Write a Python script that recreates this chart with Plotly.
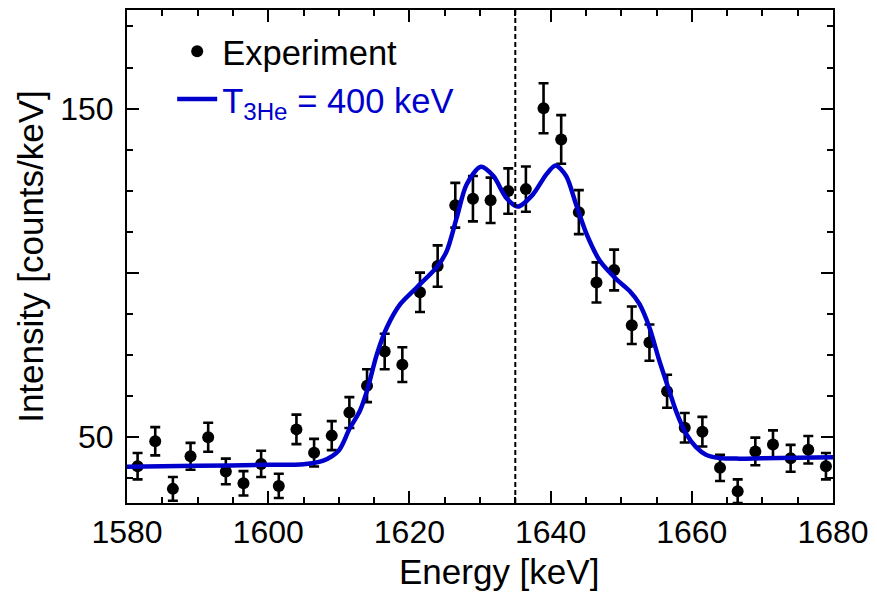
import plotly.graph_objects as go

# Experimental data (energy in keV, intensity in counts/keV)
exp_energy = [1581.5 + 2.5 * i for i in range(40)]
exp_counts = [41.2, 48.8, 34.3, 44.2, 50.0, 39.6, 36.0, 41.9, 35.2, 52.4,
              45.3, 50.5, 57.5, 65.7, 76.1, 72.1, 94.1, 102.1, 120.6, 122.6,
              122.1, 124.9, 125.5, 150.1, 140.6, 118.5, 97.1, 100.9, 84.1, 78.8,
              64.0, 52.9, 51.7, 40.7, 33.6, 45.7, 47.8, 43.6, 46.2, 41.2]
exp_err = [4.0, 4.3, 3.6, 4.1, 4.4, 3.9, 3.7, 4.0, 3.7, 4.5,
           4.2, 4.4, 4.7, 5.0, 5.4, 5.3, 6.0, 6.3, 6.8, 6.9,
           6.9, 6.9, 6.9, 7.6, 7.4, 6.7, 6.1, 6.2, 5.7, 5.5,
           5.0, 4.5, 4.5, 4.0, 3.6, 4.2, 4.3, 4.1, 4.2, 4.0]

# Simulated line shape, T_3He = 400 keV
fit_energy = [1580, 1590, 1600, 1605, 1607.8, 1610, 1611.5, 1613.0, 1614.0, 1615.4,
              1616.8, 1618.7, 1621.0, 1624.0, 1625.3, 1626.7, 1628.1, 1630.1, 1631.9,
              1633.7, 1635.4, 1637.5, 1639.4, 1640.7, 1642.2, 1643.6, 1645.1, 1647.0,
              1649.3, 1651.2, 1652.6, 1654.0, 1655.4, 1656.8, 1657.8, 1659.2, 1660.6,
              1662.0, 1663.9, 1666.7, 1670, 1680]
fit_counts = [41.0, 41.3, 41.6, 41.8, 42.9, 46.0, 52.5, 58.1, 64.2, 75.3,
              83.4, 90.5, 95.5, 102.1, 106.7, 116.8, 126.9, 132.3, 129.5,
              122.9, 120.2, 123.9, 130.0, 132.7, 129.5, 120.9, 111.8, 103.6,
              98.1, 94.5, 90.5, 83.4, 73.3, 64.2, 57.8, 51.0, 47.0,
              44.7, 43.7, 43.5, 43.6, 43.9]

ref_energy = 1635
x_ticks = [1580, 1600, 1620, 1640, 1660, 1680]
y_ticks = [50, 100, 150]
y_ticktext = ["50", "", "150"]
y_minor = [37.5, 62.5, 75, 87.5, 112.5, 125, 137.5, 162.5, 175]

FONT = "Liberation Sans, Arial, sans-serif"
BLUE = "#0000cc"

fig = go.Figure()
fig.add_trace(go.Scatter(
    x=exp_energy, y=exp_counts, mode="markers", name="Experiment",
    marker=dict(color="black", size=12),
    error_y=dict(type="data", array=exp_err, color="black", thickness=2.6, width=5),
))
fig.add_trace(go.Scatter(
    x=fit_energy, y=fit_counts, mode="lines",
    name='<span style="color:#0000cc">T<sub>3He</sub> = 400 keV</span>',
    line=dict(color=BLUE, width=4.5, shape="spline", smoothing=0.8),
))

fig.add_shape(type="line", xref="x", yref="paper", x0=ref_energy, x1=ref_energy,
              y0=0, y1=1, line=dict(color="black", width=2, dash="5px,3px"))

axis_common = dict(
    showline=True, linecolor="black", linewidth=2, mirror="ticks",
    ticks="inside", tickcolor="black", tickwidth=1.8, ticklen=12,
    showgrid=False, zeroline=False,
    tickfont=dict(family=FONT, size=32, color="black"),
)

fig.update_xaxes(
    range=[1580, 1680], tickmode="array", tickvals=x_ticks,
    minor=dict(dtick=5, ticks="inside", ticklen=6, tickcolor="black", tickwidth=1.8, showgrid=False),
    ticklabelstandoff=0,
    **axis_common,
)
fig.update_yaxes(
    range=[30, 180], tickmode="array", tickvals=y_ticks, ticktext=y_ticktext,
    minor=dict(tickmode="array", tickvals=y_minor, ticks="inside", ticklen=6,
               tickcolor="black", tickwidth=1.8, showgrid=False),
    title=dict(text="Intensity [counts/keV]", font=dict(family=FONT, size=35, color="black"), standoff=6),
    ticklabelstandoff=5,
    **axis_common,
)

# x-axis title
fig.add_annotation(text="Energy [keV]", xref="paper", yref="paper", x=0.5276, y=-0.095,
                   xanchor="center", yanchor="top", showarrow=False,
                   font=dict(family=FONT, size=35, color="black"))

fig.update_layout(
    width=877, height=594,
    margin=dict(l=127, r=43, t=8, b=91),
    paper_bgcolor="white", plot_bgcolor="white",
    font=dict(family=FONT, size=31, color="black"),
    showlegend=True,
    legend=dict(x=0.064, y=0.975, xanchor="left", yanchor="top",
                bgcolor="rgba(0,0,0,0)", font=dict(family=FONT, size=34.5, color="black"),
                tracegroupgap=0, itemwidth=40),
)

fig.write_html("out.html")
